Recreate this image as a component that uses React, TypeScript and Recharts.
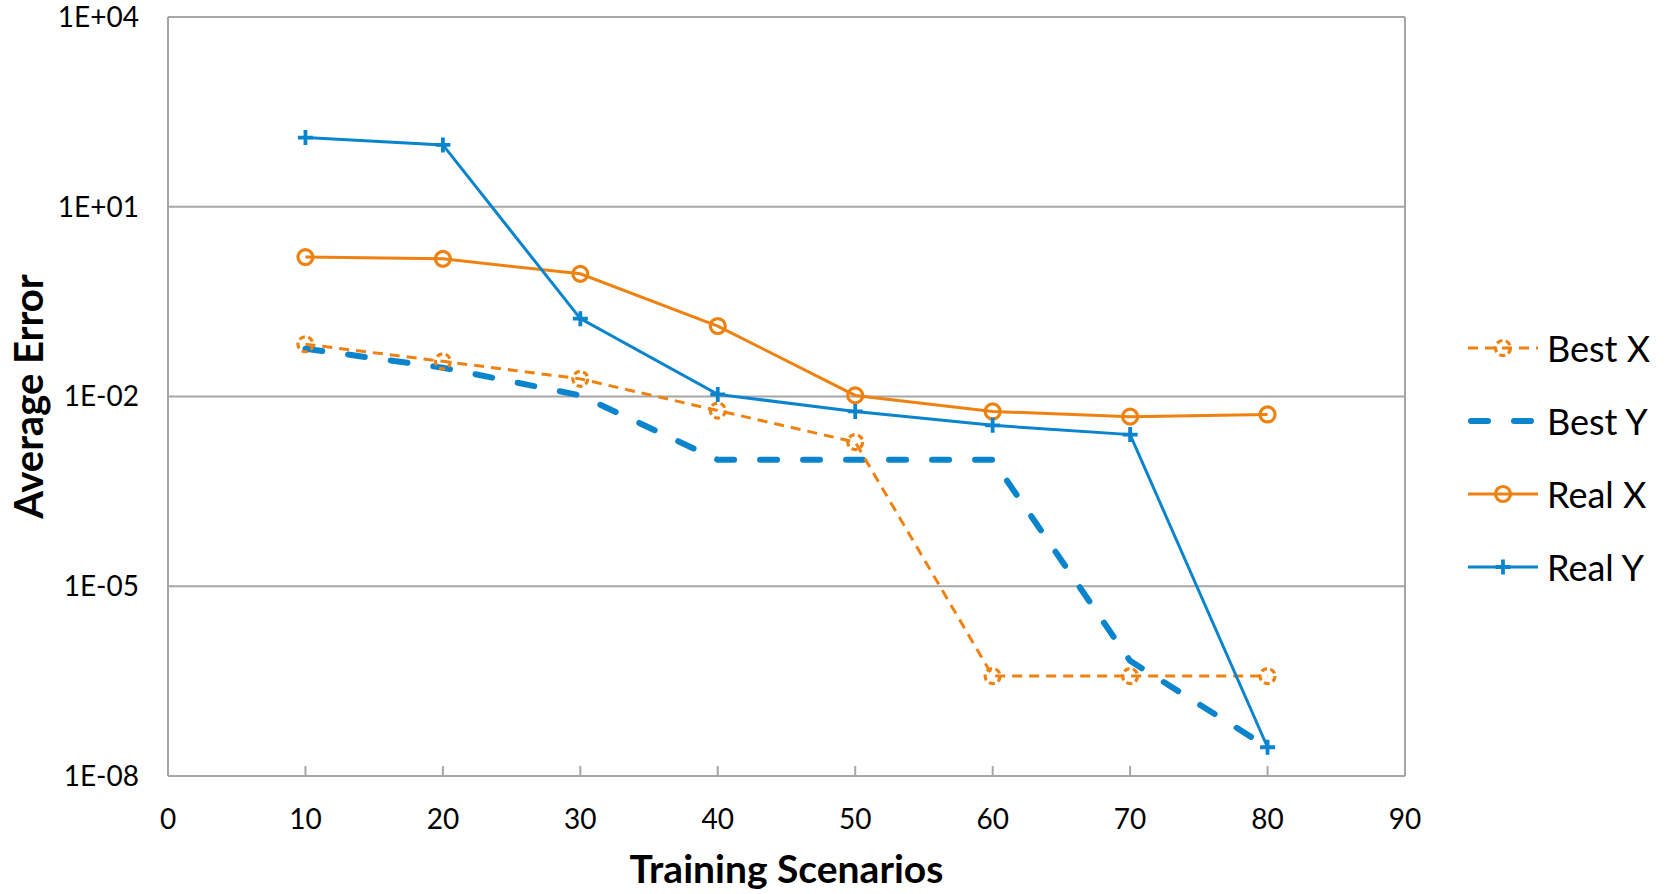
import { LineChart, Line, XAxis, YAxis, CartesianGrid, ReferenceLine, Label } from 'recharts';

const scenarios = [10, 20, 30, 40, 50, 60, 70, 80];
const bestX = [0.067, 0.036, 0.019, 0.006, 0.0019, 3.8e-7, 3.8e-7, 3.8e-7];
const bestY = [0.057, 0.0285, 0.0104, 0.001, 0.001, 0.001, 6.6e-7, 2.85e-8];
const realX = [1.6, 1.5, 0.87, 0.13, 0.0104, 0.0058, 0.0048, 0.0052];
const realY = [124, 95, 0.17, 0.0108, 0.0058, 0.0035, 0.0025, 2.85e-8];

const xTicks = [0, 10, 20, 30, 40, 50, 60, 70, 80, 90];
const yTicks = [1e-8, 1e-5, 1e-2, 1e1, 1e4];

const data = scenarios.map((s, i) => ({
  scenario: s,
  bestX: bestX[i],
  bestY: bestY[i],
  realX: realX[i],
  realY: realY[i],
}));

const ORANGE = '#EE8211';
const BLUE = '#0B84CE';
const GRID = '#a6a6a6';
const FONT = 'Lato, "Open Sans", sans-serif';

const fmtExp = (v: number) => {
  const e = Math.round(Math.log10(v));
  return `1E${e < 0 ? '-' : '+'}${String(Math.abs(e)).padStart(2, '0')}`;
};

const ringDashed = (cx: number, cy: number, key?: any) => (
  <circle key={key} cx={cx} cy={cy} r={7.5} fill="none" stroke={ORANGE} strokeWidth={3.2} strokeDasharray="6 3.5" />
);
const ring = (cx: number, cy: number, key?: any) => (
  <circle key={key} cx={cx} cy={cy} r={7.5} fill="none" stroke={ORANGE} strokeWidth={3.2} />
);
const plus = (cx: number, cy: number, key?: any) => (
  <path key={key} d={`M${cx - 7.5},${cy}H${cx + 7.5}M${cx},${cy - 7.5}V${cy + 7.5}`} stroke={BLUE} strokeWidth={3.8} fill="none" />
);

const legendItems = [
  { name: 'Best X', color: ORANGE, width: 3, dash: '10 7', cap: 'butt', marker: ringDashed },
  { name: 'Best Y', color: BLUE, width: 6, dash: '17 26', cap: 'round', marker: null },
  { name: 'Real X', color: ORANGE, width: 3, dash: undefined, cap: 'butt', marker: ring },
  { name: 'Real Y', color: BLUE, width: 3, dash: undefined, cap: 'butt', marker: plus },
];

function ChartLegend() {
  return (
    <div style={{ position: 'absolute', left: 1468, top: 311, fontFamily: FONT }}>
      {legendItems.map((it) => (
        <div key={it.name} style={{ display: 'flex', alignItems: 'center', height: 73 }}>
          <svg width={79} height={30} style={{ display: 'block' }}>
            <line
              x1={it.cap === 'round' ? 3 : 0}
              x2={70}
              y1={15}
              y2={15}
              stroke={it.color}
              strokeWidth={it.width}
              strokeDasharray={it.dash}
              strokeLinecap={it.cap as any}
            />
            {it.marker ? it.marker(35, 15) : null}
          </svg>
          <span style={{ fontSize: 36, color: '#000', lineHeight: '36px' }}>{it.name}</span>
        </div>
      ))}
    </div>
  );
}

const YTitle = (props: any) => {
  const vb = props.viewBox || {};
  const cy = vb.y + vb.height / 2;
  return (
    <text x={28} y={cy} transform={`rotate(-90, 28, ${cy})`} textAnchor="middle" dominantBaseline="central"
      fontFamily={FONT} fontWeight={700} fontSize={40} fill="#000">
      Average Error
    </text>
  );
};

const XTitle = (props: any) => {
  const vb = props.viewBox || {};
  return (
    <text x={vb.x + vb.width / 2} y={vb.y + 107} textAnchor="middle"
      fontFamily={FONT} fontWeight={700} fontSize={39} fill="#000">
      Training Scenarios
    </text>
  );
};

export default function App() {
  return (
    <div style={{ position: 'absolute', left: 0, top: 0, width: 1671, height: 894, background: '#fff' }}>
      <LineChart width={1671} height={894} data={data} margin={{ top: 17, right: 266, bottom: 0, left: 0 }}>
        <CartesianGrid vertical={false} stroke={GRID} strokeWidth={2} />
        <XAxis
          dataKey="scenario"
          type="number"
          domain={[0, 90]}
          ticks={xTicks}
          height={118}
          stroke={GRID}
          strokeWidth={2}
          tickSize={-10}
          tickMargin={43}
          tick={{ fill: '#000', fontSize: 28, fontFamily: FONT }}
          tickLine={{ stroke: GRID, strokeWidth: 2 }}
        >
          <Label content={<XTitle />} />
        </XAxis>
        <YAxis
          type="number"
          scale="log"
          domain={[1e-8, 1e4]}
          ticks={yTicks}
          allowDataOverflow
          width={168}
          stroke={GRID}
          strokeWidth={2}
          tickLine={false}
          tickSize={0}
          tickMargin={29}
          tickFormatter={fmtExp}
          tick={{ fill: '#000', fontSize: 28, fontFamily: FONT }}
        >
          <Label content={<YTitle />} />
        </YAxis>
        <ReferenceLine x={90} stroke={GRID} strokeWidth={2} />
        <Line
          dataKey="bestY"
          name="Best Y"
          stroke={BLUE}
          strokeWidth={6}
          strokeDasharray="17 26"
          strokeLinecap="round"
          dot={false}
          isAnimationActive={false}
        />
        <Line
          dataKey="bestX"
          name="Best X"
          stroke={ORANGE}
          strokeWidth={3}
          strokeDasharray="10 7"
          dot={(p: any) => ringDashed(p.cx, p.cy, p.index)}
          isAnimationActive={false}
        />
        <Line
          dataKey="realX"
          name="Real X"
          stroke={ORANGE}
          strokeWidth={3}
          dot={(p: any) => ring(p.cx, p.cy, p.index)}
          isAnimationActive={false}
        />
        <Line
          dataKey="realY"
          name="Real Y"
          stroke={BLUE}
          strokeWidth={3}
          dot={(p: any) => plus(p.cx, p.cy, p.index)}
          isAnimationActive={false}
        />
      </LineChart>
      <ChartLegend />
    </div>
  );
}
